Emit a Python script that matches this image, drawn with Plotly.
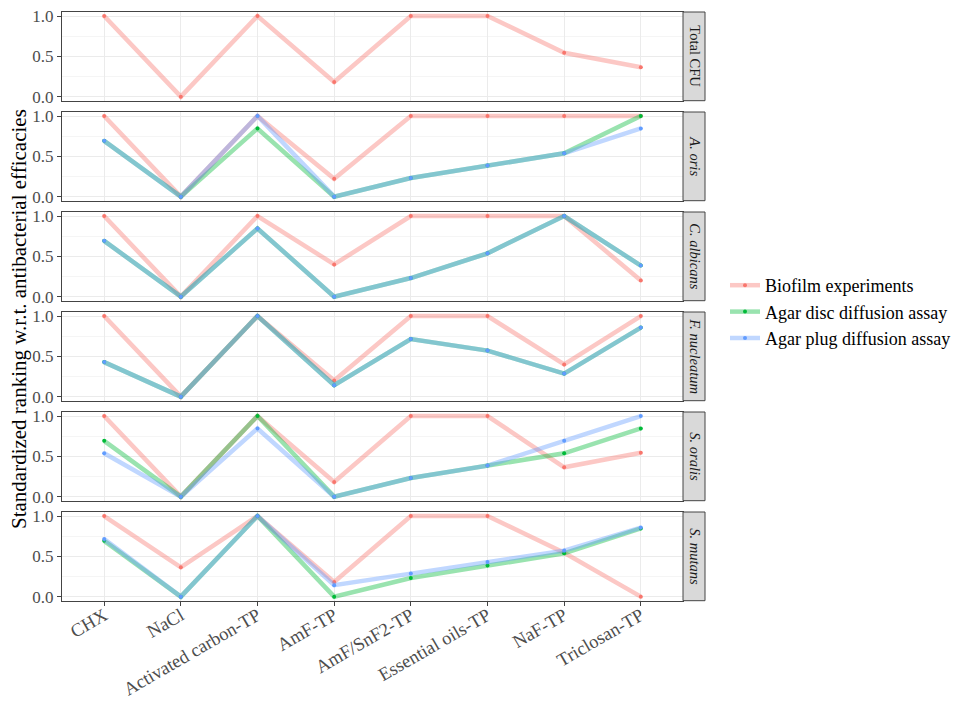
import plotly.graph_objects as go
from plotly.subplots import make_subplots

treatments = ["CHX", "NaCl", "Activated carbon-TP", "AmF-TP", "AmF/SnF2-TP",
              "Essential oils-TP", "NaF-TP", "Triclosan-TP"]
panels = ["Total CFU", "A. oris", "C. albicans", "F. nucleatum", "S. oralis", "S. mutans"]
series_names = ["Biofilm experiments", "Agar disc diffusion assay", "Agar plug diffusion assay"]

# standardized rankings per panel and assay
total_cfu_biofilm = [1, 0, 1, 0.182, 1, 1, 0.545, 0.364]

a_oris_biofilm = [1, 0, 1, 0.222, 1, 1, 1, 1]
a_oris_disc = [0.692, 0, 0.846, 0, 0.231, 0.385, 0.538, 1]
a_oris_plug = [0.692, 0, 1, 0, 0.231, 0.385, 0.538, 0.846]

c_albicans_biofilm = [1, 0, 1, 0.4, 1, 1, 1, 0.2]
c_albicans_disc = [0.692, 0, 0.846, 0, 0.231, 0.538, 1, 0.385]
c_albicans_plug = [0.692, 0, 0.846, 0, 0.231, 0.538, 1, 0.385]

f_nucleatum_biofilm = [1, 0, 1, 0.2, 1, 1, 0.4, 1]
f_nucleatum_disc = [0.429, 0, 1, 0.143, 0.714, 0.571, 0.286, 0.857]
f_nucleatum_plug = [0.429, 0, 1, 0.143, 0.714, 0.571, 0.286, 0.857]

s_oralis_biofilm = [1, 0, 1, 0.182, 1, 1, 0.364, 0.545]
s_oralis_disc = [0.692, 0, 1, 0, 0.231, 0.385, 0.538, 0.846]
s_oralis_plug = [0.538, 0, 0.846, 0, 0.231, 0.385, 0.692, 1]

s_mutans_biofilm = [1, 0.364, 1, 0.182, 1, 1, 0.545, 0]
s_mutans_disc = [0.692, 0, 1, 0, 0.231, 0.385, 0.538, 0.846]
s_mutans_plug = [0.714, 0, 1, 0.143, 0.286, 0.429, 0.571, 0.857]

panel_series = [
    [total_cfu_biofilm, None, None],
    [a_oris_biofilm, a_oris_disc, a_oris_plug],
    [c_albicans_biofilm, c_albicans_disc, c_albicans_plug],
    [f_nucleatum_biofilm, f_nucleatum_disc, f_nucleatum_plug],
    [s_oralis_biofilm, s_oralis_disc, s_oralis_plug],
    [s_mutans_biofilm, s_mutans_disc, s_mutans_plug],
]

solid = ["#F8766D", "#00BA38", "#619CFF"]
faded = ["rgba(248,118,109,0.4)", "rgba(0,186,56,0.4)", "rgba(97,156,255,0.4)"]

W, H = 971, 701
FONT = "Liberation Serif"
left_px, right_px = 62, 683
strip_w = 22
border = "#444444"

fig = make_subplots(rows=6, cols=1, shared_xaxes=True)
xs = list(range(len(treatments)))
shown = set()

for i, series in enumerate(panel_series):
    for k, vals in enumerate(series):
        if vals is None:
            continue
        fig.add_trace(go.Scatter(
            x=xs, y=vals, mode="lines+markers",
            name=series_names[k], legendgroup=series_names[k],
            showlegend=k not in shown,
            line=dict(color=faded[k], width=4.5),
            marker=dict(color=solid[k], size=4),
        ), row=i + 1, col=1)
        shown.add(k)

shapes = []
annotations = []
for i, name in enumerate(panels):
    top = 12 + 100 * i
    bottom = 100.7 + 100 * i
    dom = [1 - bottom / H, 1 - top / H]
    suffix = "" if i == 0 else str(i + 1)
    last = i == len(panels) - 1
    fig.layout["xaxis" + suffix].update(
        domain=[left_px / W, right_px / W], range=[-0.55, 7.55],
        automargin=False,
        tickvals=xs, ticktext=treatments, showticklabels=last,
        ticks="outside" if last else "", ticklen=4, tickcolor=border,
        tickangle=-30, ticklabelstandoff=-8,
        tickfont=dict(family=FONT, size=18.5, color="#4D4D4D"),
        showgrid=True, gridcolor="#EBEBEB", gridwidth=1,
        showline=True, linecolor=border, linewidth=1, mirror=True,
        zeroline=False,
    )
    fig.layout["yaxis" + suffix].update(
        domain=dom, range=[-0.05, 1.05],
        automargin=False,
        tickvals=[0, 0.5, 1], ticktext=["0.0", "0.5", "1.0"],
        ticks="outside", ticklen=4, tickcolor=border,
        tickfont=dict(family=FONT, size=17, color="#4D4D4D"),
        showgrid=True, gridcolor="#EBEBEB", gridwidth=1,
        minor=dict(tickvals=[0.25, 0.75], showgrid=True, gridcolor="#F5F5F5",
                   gridwidth=1, ticks=""),
        showline=True, linecolor=border, linewidth=1, mirror=True,
        zeroline=False,
    )
    # facet strip on the right
    shapes.append(dict(
        type="rect", xref="paper", yref="paper",
        x0=right_px / W, x1=(right_px + strip_w) / W, y0=dom[0], y1=dom[1],
        fillcolor="#D9D9D9", line=dict(color=border, width=1),
    ))
    label = name if i == 0 else "<i>" + name + "</i>"
    annotations.append(dict(
        text=label, xref="paper", yref="paper",
        x=(right_px + strip_w / 2 + 1) / W, y=(dom[0] + dom[1]) / 2,
        xanchor="center", yanchor="middle",
        showarrow=False, textangle=90,
        font=dict(family=FONT, size=14.5, color="#1A1A1A"),
    ))

annotations.append(dict(
    text="Standardized ranking w.r.t. antibacterial efficacies",
    xref="paper", yref="paper", x=19 / W, y=1 - 319 / H,
    xanchor="center", yanchor="middle",
    showarrow=False, textangle=-90,
    font=dict(family=FONT, size=21, color="#000000"),
))

fig.update_layout(
    width=W, height=H, autosize=False,
    margin=dict(l=0, r=0, t=0, b=0, pad=0),
    paper_bgcolor="white", plot_bgcolor="white",
    shapes=shapes, annotations=annotations,
    legend=dict(
        x=725 / W, y=1 - 267 / H, xanchor="left", yanchor="top",
        font=dict(family=FONT, size=18, color="#000000"),
        tracegroupgap=0, itemwidth=30,
        bgcolor="rgba(0,0,0,0)",
    ),
    font=dict(family=FONT),
)

fig.write_html("out.html")
